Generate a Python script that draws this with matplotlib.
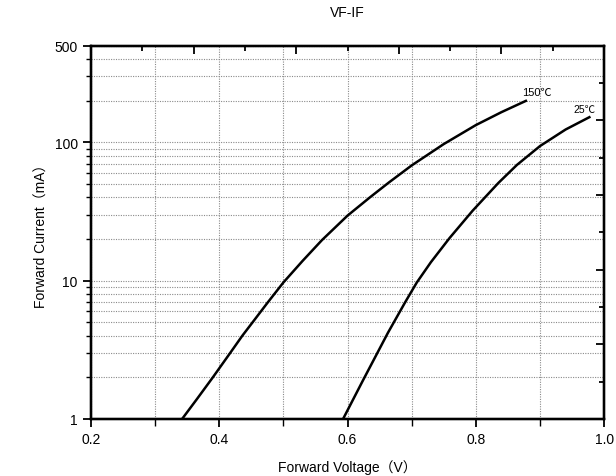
import matplotlib

matplotlib.use("Agg")
import matplotlib.pyplot as plt

plt.rcParams["font.family"] = ["Liberation Sans", "Noto Sans CJK SC", "DejaVu Sans"]

# curve readings: forward voltage (V) vs forward current (mA)
vf_150 = [0.342, 0.365, 0.390, 0.417, 0.436, 0.452, 0.475, 0.500, 0.530, 0.560,
          0.600, 0.635, 0.664, 0.700, 0.750, 0.800, 0.840, 0.878]
if_150 = [1, 1.39, 2, 3, 4, 5, 6.9, 9.7, 13.9, 19.6,
          29.5, 40, 51, 68, 97, 133, 165, 199]

vf_25 = [0.593, 0.624, 0.663, 0.690, 0.708, 0.730, 0.759, 0.795, 0.835, 0.864,
         0.900, 0.940, 0.977]
if_25 = [1, 1.9, 4.2, 7.0, 9.7, 13.6, 20.3, 32, 50.7, 68.5,
         93.8, 123.6, 151.7]

x_major = [0.2, 0.4, 0.6, 0.8, 1.0]
x_minor = [0.3, 0.5, 0.7, 0.9]
y_major = [1, 10, 100, 500]
y_minor = [2, 3, 4, 5, 6, 7, 8, 9, 20, 30, 40, 50, 60, 70, 80, 90, 200, 300, 400]

fig = plt.figure(figsize=(6.16, 4.77), dpi=100)
ax = fig.add_axes([0.1477, 0.1195, 0.833, 0.783])
ax.set_yscale("log")
ax.set_xlim(0.2, 1.0)
ax.set_ylim(1, 500)

ax.set_xticks(x_major)
ax.set_xticklabels(["0.2", "0.4", "0.6", "0.8", "1.0"])
ax.set_xticks(x_minor, minor=True)
ax.set_yticks(y_major)
ax.set_yticklabels(["1", "10", "100", "500"])
ax.set_yticks(y_minor, minor=True)
ax.tick_params(axis="y", which="minor", labelleft=False)

ax.tick_params(which="major", direction="out", length=6, width=1.3, labelsize=10)
ax.tick_params(which="minor", direction="out", length=3.5, width=1.0)
ax.tick_params(axis="x", which="minor", length=5)

ax.grid(which="both", color="#8a8a8a", linestyle=(0, (1, 1.2)), linewidth=0.8)

for s in ax.spines.values():
    s.set_linewidth(1.6)

ax.plot(vf_150, if_150, color="black", linewidth=1.8)
ax.plot(vf_25, if_25, color="black", linewidth=1.8)

ax.text(0.896, 232, "150℃", ha="center", va="center", fontsize=8)
ax.text(0.970, 175, "25℃", ha="center", va="center", fontsize=7.5)

ax.set_xlabel("Forward Voltage（V）", fontsize=10, labelpad=9.5)
ax.set_ylabel("Forward Current（mA）", fontsize=10, labelpad=4)
ax.set_title("VF-IF", fontsize=10, pad=21)

# mirrored tick marks on top and right: 10 equal divisions
frac_major = [0.2, 0.4, 0.6, 0.8]
frac_minor = [0.1, 0.3, 0.5, 0.7, 0.9]

axr = ax.twinx()
axr.set_ylim(0, 1)
axr.set_yticks(frac_major)
axr.set_yticks(frac_minor, minor=True)
axr.tick_params(which="both", direction="in", labelright=False, width=1.3)
axr.tick_params(which="major", length=6)
axr.tick_params(which="minor", length=3.5)

axt = ax.twiny()
axt.set_xlim(0, 1)
axt.set_xticks(frac_major)
axt.set_xticks(frac_minor, minor=True)
axt.tick_params(which="both", direction="in", labeltop=False, width=1.3)
axt.tick_params(which="major", length=6)
axt.tick_params(which="minor", length=3.5)

for a in (axr, axt):
    for s in a.spines.values():
        s.set_linewidth(1.6)

fig.savefig("out.png", dpi=100)
plt.close(fig)
